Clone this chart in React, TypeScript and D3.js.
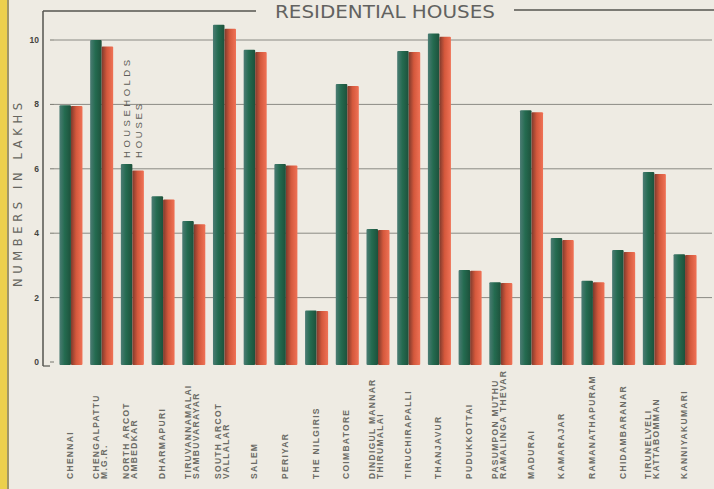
import React from "react";
import * as d3 from "d3";

const districts: string[][] = [
  ["CHENNAI"],
  ["CHENGALPATTU", "M.G.R."],
  ["NORTH ARCOT", "AMBEDKAR"],
  ["DHARMAPURI"],
  ["TIRUVANNAMALAI", "SAMBUVARAYAR"],
  ["SOUTH ARCOT", "VALLALAR"],
  ["SALEM"],
  ["PERIYAR"],
  ["THE NILGIRIS"],
  ["COIMBATORE"],
  ["DINDIGUL MANNAR", "THIRUMALAI"],
  ["TIRUCHIRAPALLI"],
  ["THANJAVUR"],
  ["PUDUKKOTTAI"],
  ["PASUMPON MUTHU", "RAMALINGA THEVAR"],
  ["MADURAI"],
  ["KAMARAJAR"],
  ["RAMANATHAPURAM"],
  ["CHIDAMBARANAR"],
  ["TIRUNELVELI", "KATTABOMMAN"],
  ["KANNIYAKUMARI"],
];

const households = [7.97, 10.0, 6.15, 5.15, 4.38, 10.47, 9.7, 6.15, 1.6, 8.63, 4.13, 9.66, 10.2, 2.86, 2.48, 7.82, 3.85, 2.52, 3.48, 5.9, 3.35];
const houses = [7.95, 9.8, 5.95, 5.05, 4.28, 10.35, 9.63, 6.1, 1.58, 8.57, 4.1, 9.63, 10.1, 2.83, 2.45, 7.76, 3.79, 2.48, 3.42, 5.84, 3.32];
const yTicks = [0, 2, 4, 6, 8, 10];
const seriesNames = ["HOUSEHOLDS", "HOUSES"];

const W = 714;
const H = 489;

export default function App() {
  const keys = districts.map((d) => d.join(" "));
  const x0 = d3.scaleBand<string>().domain(keys).range([55.6, 700.4]).paddingInner(0.25).paddingOuter(0.125);
  const x1 = d3.scaleBand<string>().domain(seriesNames).range([0, x0.bandwidth()]);
  const y = d3.scaleLinear().domain([0, 10]).range([362, 40]);
  const ink = "#5e5e58";

  return (
    <svg width={W} height={H} style={{ position: "absolute", left: 0, top: 0 }} fontFamily="Liberation Sans, Arial, sans-serif">
      <defs>
        <linearGradient id="gGreen" x1="0" x2="1" y1="0" y2="0">
          <stop offset="0" stopColor="#4c7c74" />
          <stop offset="0.45" stopColor="#246b50" />
          <stop offset="1" stopColor="#1d513b" />
        </linearGradient>
        <linearGradient id="gRed" x1="0" x2="1" y1="0" y2="0">
          <stop offset="0" stopColor="#7d3a2c" />
          <stop offset="0.45" stopColor="#d4583c" />
          <stop offset="1" stopColor="#f07256" />
        </linearGradient>
      </defs>
      <rect width={W} height={H} fill="#eeebe3" />
      <rect x={0} y={0} width={7} height={H} fill="#ecd04c" />
      <line x1={8} x2={8} y1={0} y2={H} stroke="#857a3e" strokeWidth={1.5} />

      {/* grid */}
      {yTicks.filter((t) => t > 0).map((t) => (
        <line key={t} x1={54} x2={712} y1={y(t)} y2={y(t)} stroke="#8a8a84" strokeWidth={1} />
      ))}

      {/* frame */}
      <line x1={43} x2={43} y1={11} y2={y(0) + 4} stroke="#55554f" strokeWidth={1.5} />
      <line x1={43} x2={50} y1={y(0) + 4} y2={y(0) + 4} stroke="#55554f" strokeWidth={1.2} />
      <line x1={43} x2={256} y1={11} y2={11} stroke="#55554f" strokeWidth={1.5} />
      <line x1={514} x2={714} y1={10} y2={10} stroke="#55554f" strokeWidth={1.5} />
      <text x={275} y={18} fontSize={17} fill="#626260" textLength={220} lengthAdjust="spacingAndGlyphs" fontFamily="DejaVu Sans, sans-serif">RESIDENTIAL  HOUSES</text>

      {/* y ticks */}
      {yTicks.map((t) => (
        <g key={t}>
          <text x={39} y={y(t) + 3} fontSize={8.5} fontWeight="bold" fill="#45453f" textAnchor="end">{t}</text>
          <line x1={50} x2={54} y1={y(t)} y2={y(t)} stroke="#77776f" />
        </g>
      ))}
      <text transform={`translate(22,195) rotate(-90)`} fontSize={11.5} fill="#66665f" textAnchor="middle" textLength={184} lengthAdjust="spacing" fontFamily="DejaVu Sans, sans-serif">NUMBERS IN LAKHS</text>

      {/* bars */}
      {keys.map((k, i) => (
        <g key={k} transform={`translate(${x0(k)},0)`}>
          <rect x={x1("HOUSEHOLDS")} y={y(households[i])} width={x1.bandwidth()} height={y(0) - y(households[i]) + 3} fill="url(#gGreen)" rx={1} />
          <rect x={x1("HOUSES")} y={y(houses[i])} width={x1.bandwidth()} height={y(0) - y(houses[i]) + 3} fill="url(#gRed)" rx={1} />
        </g>
      ))}

      {/* legend */}
      <text transform={`translate(${(x0(keys[2]) as number) + x1("HOUSEHOLDS")! + x1.bandwidth() / 2 + 3.5},${y(households[2]) - 6}) rotate(-90)`} fontSize={9.5} fill={ink} textLength={98} lengthAdjust="spacing">HOUSEHOLDS</text>
      <text transform={`translate(${(x0(keys[2]) as number) + x1("HOUSES")! + x1.bandwidth() / 2 + 3.5},${y(households[2]) - 6}) rotate(-90)`} fontSize={9.5} fill={ink} textLength={54} lengthAdjust="spacing">HOUSES</text>

      {/* x labels */}
      {districts.map((lines, i) => {
        const cx = (x0(keys[i]) as number) + x0.bandwidth() / 2;
        const offs = lines.length === 1 ? [-1] : [-6, 2];
        return lines.map((ln, j) => (
          <text key={i + "-" + j} transform={`translate(${cx + offs[j] + 3},479) rotate(-90)`} fontSize={8.5} fill="#6c6c66" letterSpacing={1.3} fontWeight="bold">{ln}</text>
        ));
      })}
    </svg>
  );
}
